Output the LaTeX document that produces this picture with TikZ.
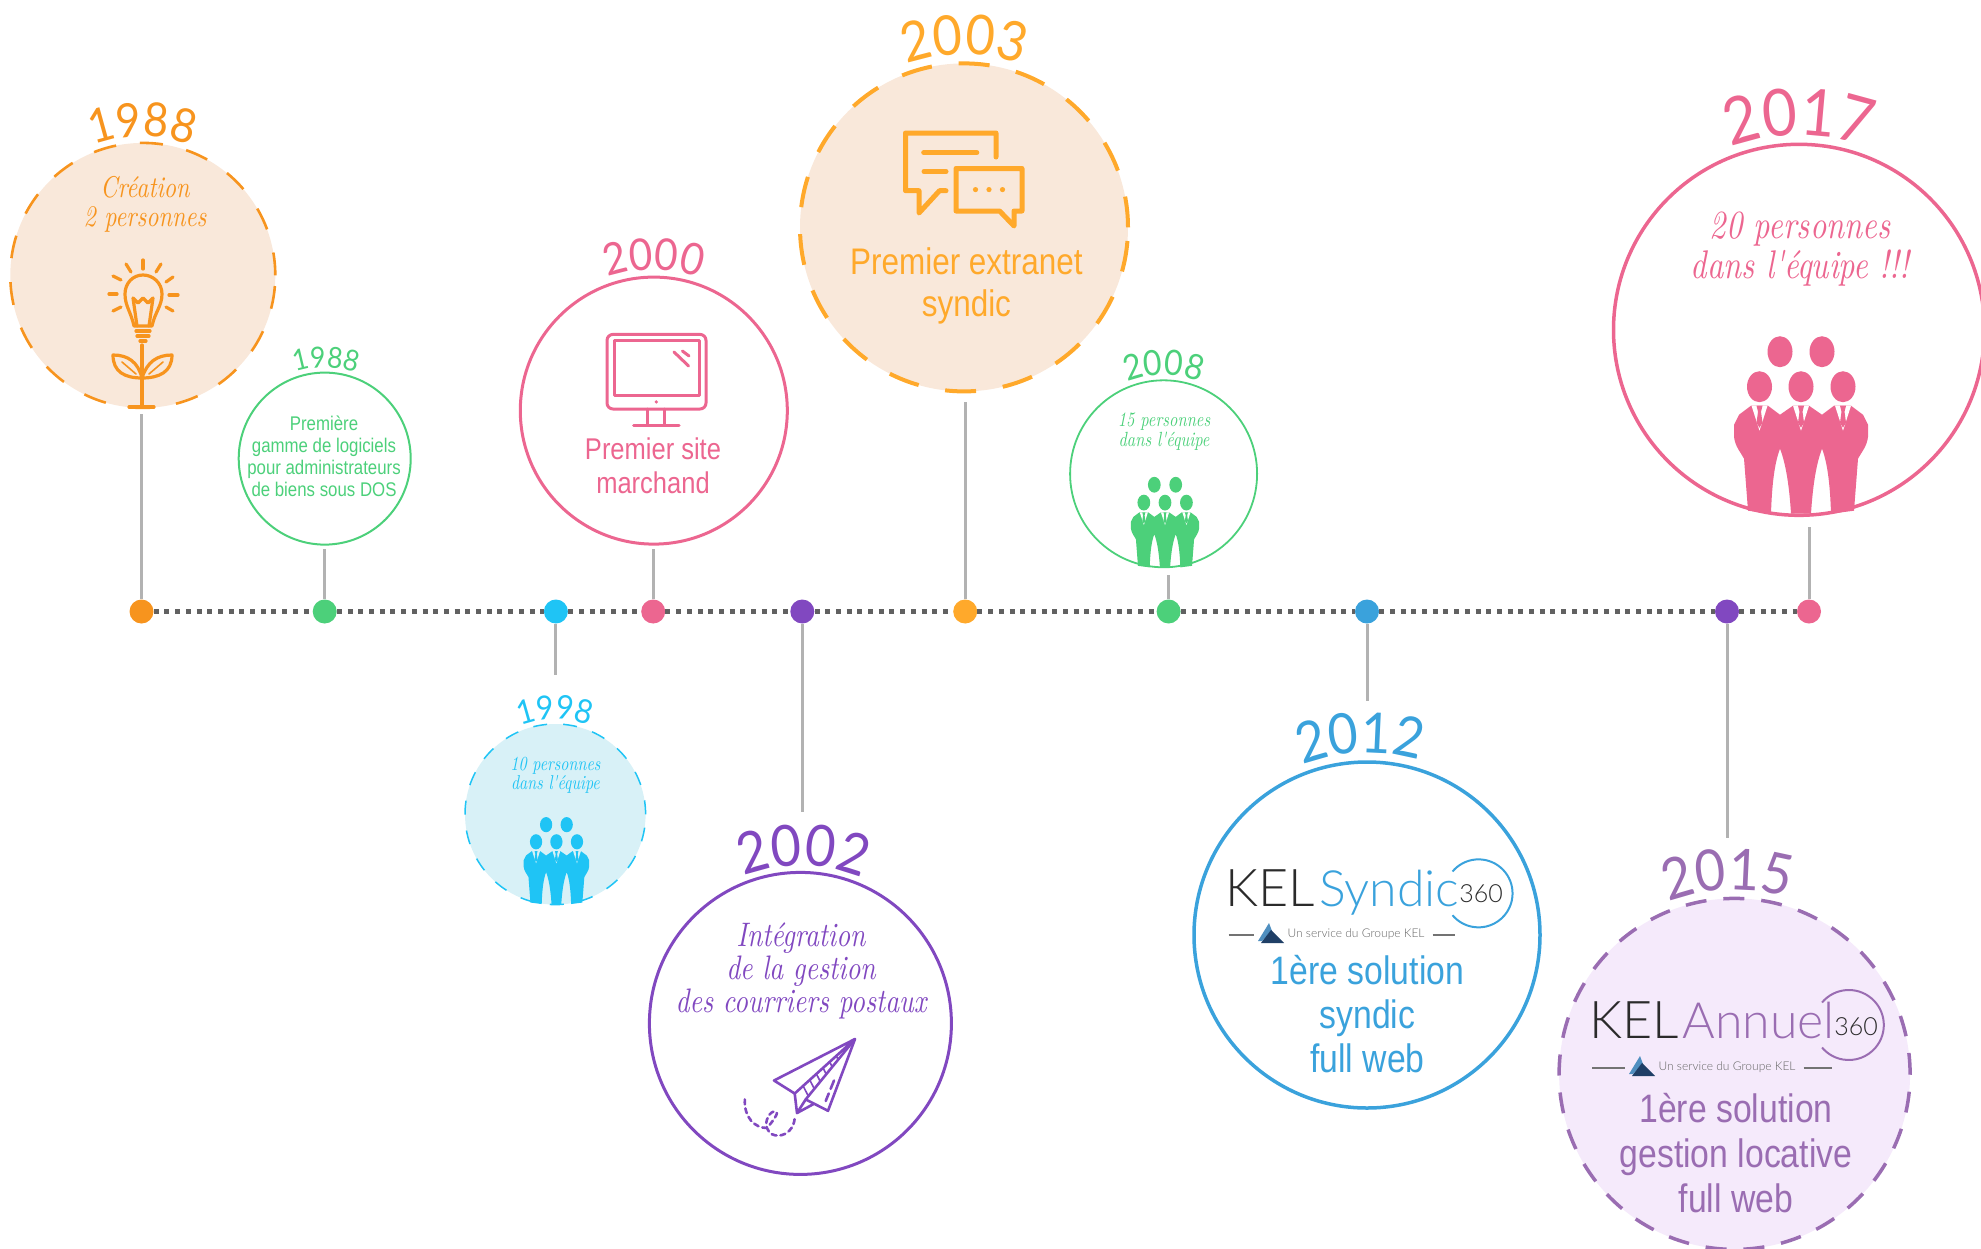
\documentclass[tikz,border=0pt]{standalone}
\usepackage{fontspec}
\usetikzlibrary{calc,decorations.text}

\newfontfamily\yearfont[FakeStretch=0.92]{Lato}
\newfontfamily\narrowfont[FakeStretch=0.85]{Liberation Sans}
\newfontfamily\thinfont{Lato Light}
\newfontfamily\handfont[FakeStretch=0.8,Extension=.otf]{lmroman10-italic}

\definecolor{peach}{HTML}{F9E8DA}
\definecolor{carrot}{HTML}{F7941E}
\definecolor{amber}{HTML}{FFA92B}
\definecolor{leaf}{HTML}{4CD07A}
\definecolor{sky}{HTML}{1FC4F5}
\definecolor{skybg}{HTML}{D8F1F7}
\definecolor{rose}{HTML}{EC6690}
\definecolor{grape}{HTML}{8148C0}
\definecolor{ocean}{HTML}{3AA2DC}
\definecolor{mauve}{HTML}{9A6DB2}
\definecolor{mauvebg}{HTML}{F5EAFB}
\definecolor{navy}{HTML}{1F3F66}
\definecolor{steel}{HTML}{4F8FC0}
\definecolor{inkgray}{HTML}{2B2B2B}

\tikzset{
  dotnode/.style={circle,fill=#1,minimum size=24pt,inner sep=0pt},
  dotline/.style={draw=black!62,line width=5pt,dash pattern=on 5pt off 5.7pt},
  stem/.style={draw=black!30,line width=3pt},
  ring/.style={circle,inner sep=0pt,draw=#1},
  blurb/.style={align=center,inner sep=0pt},
  iconline/.style={line width=#1,line cap=round,line join=round},
  pics/team/.style 2 args={code={
    \foreach \hx/\hy in {-21/-35,21/-35,-41.5/0,0/0,42/0}
      \fill[#1] (\hx,\hy) ellipse (12.5 and 15.5);
    \fill[#1] (-67,38) -- (-62,28) -- (-50,19) -- (-33,19) -- (-21,28) -- (-8,19) -- (8,19)
      -- (21,28) -- (33,19) -- (50,19) -- (62,28) -- (67,38) -- (67,50)
      .. controls (66,60) and (60,66) .. (57,72) -- (53,124) -- (30,127)
      .. controls (29,95) and (26,75) .. (21,62) .. controls (16,75) and (12,95) .. (10,127)
      -- (-10,127) .. controls (-12,95) and (-16,75) .. (-21,62)
      .. controls (-26,75) and (-29,95) .. (-30,127) -- (-53,124) -- (-57,72)
      .. controls (-60,66) and (-66,60) .. (-67,50) -- cycle;
    \foreach \nx in {-41.5,0,42}{
      \fill[#2] (\nx-8,19) -- (\nx+8,19) -- (\nx,44) -- cycle;
      \fill[#1] (\nx-3,19) -- (\nx+3,19) -- (\nx+1.5,25) -- (\nx+3,36) -- (\nx,41)
        -- (\nx-3,36) -- (\nx-1.5,25) -- cycle;
    }
  }},
  pics/groupmark/.style={code={
    \fill[steel] (0,2) -- (11,20) -- (14,12) -- (4,2) -- cycle;
    \fill[navy] (3,0) -- (13,13) -- (26,0) -- cycle;
  }},
}

\newcommand{\yearlabel}[6][0]{%
  \path[decorate,decoration={text along path,text align=center,
    text={|\yearfont\fontsize{#4}{#4}\selectfont\color{#5}|#6}}]
    ($(#2.center)+(135+#1:#3)$) arc (135+#1:45+#1:#3);}

\begin{document}
\begin{tikzpicture}[x=1pt,y=1pt]
    \useasboundingbox (0,0) rectangle (1981,-1248);

    % timeline dots
    \node[dotnode=carrot] (dota) at (141.5,-611.5) {};
    \node[dotnode=leaf] (dotb) at (324.7,-611.5) {};
    \node[dotnode=sky] (dotc) at (555.9,-611.5) {};
    \node[dotnode=rose] (dotd) at (653.2,-611.5) {};
    \node[dotnode=grape] (dote) at (802.3,-611.5) {};
    \node[dotnode=amber] (dotf) at (965.2,-611.5) {};
    \node[dotnode=leaf] (dotg) at (1168.6,-611.5) {};
    \node[dotnode=ocean] (doth) at (1367,-611.5) {};
    \node[dotnode=grape] (doti) at (1727,-611.5) {};
    \node[dotnode=rose] (dotj) at (1809,-611.5) {};
    \foreach \from/\to in {dota/dotb,dotb/dotc,dotc/dotd,dotd/dote,dote/dotf,dotf/dotg,dotg/doth,doth/doti,doti/dotj}
      \draw[dotline] (\from) -- (\to);

    % free ends of the stems
    \coordinate (enda) at (141.5,-414);
    \coordinate (endb) at (324.7,-549);
    \coordinate (endc) at (555.9,-675);
    \coordinate (endd) at (653.2,-549);
    \coordinate (ende) at (802.3,-812);
    \coordinate (endf) at (965.2,-402);
    \coordinate (endg) at (1168.6,-575);
    \coordinate (endh) at (1367,-701);
    \coordinate (endi) at (1727,-838);
    \coordinate (endj) at (1809,-527);
    \foreach \n in {a,b,c,d,e,f,g,h,i,j}
      \draw[stem] (dot\n) -- (end\n);

    % 1988 creation
    \node[ring=carrot,fill=peach,line width=2.6pt,dash pattern=on 23pt off 24pt,minimum size=265pt] (circa) at (142.8,-275.4) {};
    \yearlabel{circa}{139}{47}{carrot}{1988}
    \node[blurb,text=carrot,font=\handfont\fontsize{30}{29}\selectfont] (texta) at (145,-204) {Création\\2 personnes};
    \begin{scope}[draw=carrot,iconline=3.2pt]
      \draw (134,-326) .. controls (131,-312) and (125,-306) .. (125,-294)
        .. controls (125,-283) and (133,-275) .. (143,-275)
        .. controls (153,-275) and (162,-283) .. (162,-294)
        .. controls (162,-306) and (155,-312) .. (152,-326) -- cycle;
      \draw (137,-326) -- (133,-298) -- (138,-303) -- (143,-298) -- (148,-303) -- (153,-298) -- (149,-326);
      \draw (136,-331) -- (150,-331);
      \draw (137,-336) -- (149,-336);
      \draw (140,-341) -- (146,-341);
      \draw (143,-260) -- (143,-269);
      \draw (126,-264) -- (131,-272);
      \draw (161,-264) -- (156,-272);
      \draw (113,-276) -- (121,-280);
      \draw (173,-277) -- (166,-282);
      \draw (109,-294) -- (117,-294);
      \draw (169,-295) -- (178,-295);
      \draw (113,-311) -- (121,-307);
      \draw (173,-311) -- (166,-307);
      \draw (142,-345) -- (142,-406);
      \draw (129,-407) -- (154,-407);
      \draw (142,-378) .. controls (125,-378) and (113,-372) .. (113,-355)
        .. controls (128,-355) and (138,-362) .. (142,-378);
      \draw (142,-378) .. controls (159,-378) and (172,-372) .. (172,-355)
        .. controls (157,-355) and (147,-362) .. (142,-378);
      \draw[line width=1.6pt] (122,-362) -- (136,-374);
      \draw[line width=1.6pt] (163,-362) -- (149,-374);
    \end{scope}

    % 1988 software
    \node[ring=leaf,line width=2pt,minimum size=172pt] (circb) at (324.7,-458.6) {};
    \yearlabel[-1]{circb}{91}{29}{leaf}{1988}
    \node[blurb,text=leaf,font=\narrowfont\fontsize{19.8}{22}\selectfont] (textb) at (324,-456.5) {Première\\gamme de logiciels\\pour administrateurs\\de biens sous DOS};

    % 1998
    \node[ring=sky,fill=skybg,line width=1.5pt,dash pattern=on 14pt off 16pt,minimum size=180.6pt] (circc) at (555.3,-814.3) {};
    \yearlabel{circc}{95}{33}{sky}{1998}
    \node[blurb,text=sky,font=\handfont\fontsize{20}{19}\selectfont] (textc) at (555.4,-775) {10 personnes\\dans l'équipe};
    \pic at (556.4,-841.8) [scale=.49,yscale=-1] {team={sky}{skybg}};

    % 2000
    \node[ring=rose,line width=3pt,minimum size=267pt] (circd) at (653.8,-410.6) {};
    \yearlabel{circd}{141}{44}{rose}{2000}
    \node[blurb,text=rose,font=\narrowfont\fontsize{30}{34}\selectfont] (textd) at (653,-466) {Premier site\\marchand};
    \begin{scope}[draw=rose,iconline=3pt]
      \draw[rounded corners=6pt] (607,-334.4) rectangle (706,-409);
      \draw (614,-340.7) rectangle (699,-395.5);
      \fill[rose] (656.3,-401.9) circle (1.8);
      \draw (647,-409) -- (647,-425);
      \draw (664.6,-409) -- (664.6,-425);
      \draw (633.5,-425) -- (679,-425);
      \draw (674,-352) -- (688.6,-366);
      \draw (682.4,-351) -- (689,-356);
    \end{scope}

    % 2002
    \node[ring=grape,line width=3pt,minimum size=302pt] (circe) at (800.4,-1023.4) {};
    \yearlabel[-1]{circe}{158}{57}{grape}{2002}
    \node[blurb,text=grape,font=\handfont\fontsize{34}{33}\selectfont] (texte) at (801,-971) {Intégration\\de la gestion\\des courriers postaux};
    \begin{scope}[draw=grape,iconline=2.6pt]
      \draw (855,-1039) -- (774,-1080.5) -- (794.7,-1093.5) -- cycle;
      \draw (794.7,-1093.5) -- (797,-1113) -- (805.7,-1099.4) -- (855,-1039);
      \draw (797,-1113) -- (813.6,-1104);
      \draw (805.7,-1099.4) -- (828,-1110.8) -- (855,-1039);
      \foreach \t in {.14,.25,.36,.47,.58,.69,.8}
        \draw[line width=1.6pt] ($(794.7,-1093.5)!\t!(855,-1039)$) -- ($(801,-1106)!\t!(855,-1039)$);
      \draw[dashed,dash pattern=on 9pt off 5pt] (834,-1080.5) -- (825.7,-1101);
      \draw[dash pattern=on 5pt off 4pt] (744.8,-1099.4) .. controls (744,-1118) and (755,-1128) .. (767,-1128)
        .. controls (772,-1122) and (780,-1112) .. (775.7,-1111.5)
        .. controls (770,-1110) and (764,-1122) .. (767,-1128)
        .. controls (769,-1134) and (774,-1136) .. (779,-1135.5)
        .. controls (787,-1135) and (794,-1128) .. (794.7,-1118.3);
    \end{scope}

    % 2003
    \node[ring=amber,fill=peach,line width=4pt,dash pattern=on 31pt off 27pt,minimum size=328pt] (circf) at (964,-227.4) {};
    \yearlabel{circf}{173}{55}{amber}{2003}
    \node[blurb,text=amber,font=\narrowfont\fontsize{37}{42}\selectfont] (textf) at (966.4,-285.5) {Premier extranet\\syndic};
    \begin{scope}[draw=amber,iconline=5pt]
      \draw (996,-157) -- (996,-133) -- (905.5,-133) -- (905.5,-190.7) -- (919,-190.7) -- (919,-213) -- (939.5,-190.7) -- (946,-190.7);
      \draw (923.7,-152.6) -- (976.8,-152.6);
      \draw (924,-171.5) -- (946,-171.5);
      \draw (956,-168.5) -- (1022,-168.5) -- (1022,-211) -- (1014,-211) -- (1014,-226) -- (999.6,-211) -- (956,-211) -- cycle;
      \foreach \d in {975.5,989,1002.5}
        \fill[amber] (\d,-189.6) circle (2.6);
    \end{scope}

    % 2008
    \node[ring=leaf,line width=1.8pt,minimum size=187pt] (circg) at (1163.6,-473.8) {};
    \yearlabel{circg}{99}{35}{leaf}{2008}
    \node[blurb,text=leaf,font=\handfont\fontsize{20.5}{20}\selectfont] (textg) at (1164,-432) {15 personnes\\dans l'équipe};
    \pic at (1165,-502.6) [scale=.51,yscale=-1] {team={leaf}{white}};

    % 2012
    \node[ring=ocean,line width=3.5pt,minimum size=346pt] (circh) at (1367,-935) {};
    \yearlabel[2]{circh}{182}{56}{ocean}{2012}
    \node[inner sep=0pt,anchor=base west,text=inkgray,font=\thinfont\fontsize{52}{52}\selectfont] (kelh) at (1225.5,-906) {KEL};
    \node[inner sep=0pt,anchor=base west,text=ocean,font=\thinfont\fontsize{50}{50}\selectfont] (nameh) at (1319,-906) {Syndic};
    \draw[ocean,line width=2pt] (1452.5,-871.5) arc (140:-140:34);
    \node[inner sep=0pt,text=inkgray,font=\thinfont\fontsize{25}{25}\selectfont] (numh) at (1481,-894) {360};
    \coordinate (rulehl) at (1228.5,-935);
    \coordinate (rulehm) at (1254,-935);
    \coordinate (rulehn) at (1432.5,-935);
    \coordinate (ruleho) at (1454.5,-935);
    \draw[black!55,line width=1.4pt] (rulehl) -- (rulehm);
    \draw[black!55,line width=1.4pt] (rulehn) -- (ruleho);
    \pic at (1258,-943) {groupmark};
    \node[inner sep=0pt,text=black!60,font=\thinfont\fontsize{12}{12}\selectfont] (subh) at (1356,-934) {Un service du Groupe KEL};
    \node[blurb,text=ocean,font=\narrowfont\fontsize{39.7}{43.7}\selectfont] (texth) at (1367.5,-1014) {1ère solution\\syndic\\full web};

    % 2015
    \node[ring=mauve,fill=mauvebg,line width=3.5pt,dash pattern=on 21pt off 17pt,minimum size=351pt] (circi) at (1734.6,-1073.9) {};
    \yearlabel[2]{circi}{184}{57}{mauve}{2015}
    \node[inner sep=0pt,anchor=base west,text=inkgray,font=\thinfont\fontsize{52}{52}\selectfont] (keli) at (1589,-1038.5) {KEL};
    \node[inner sep=0pt,anchor=base west,text=mauve,font=\thinfont\fontsize{50}{50}\selectfont] (namei) at (1682.5,-1038.5) {Annuel};
    \draw[mauve,line width=2pt] (1822,-1002.5) arc (140:-140:35);
    \node[inner sep=0pt,text=inkgray,font=\thinfont\fontsize{25}{25}\selectfont] (numi) at (1856,-1027) {360};
    \coordinate (ruleil) at (1592,-1068);
    \coordinate (ruleim) at (1625,-1068);
    \coordinate (rulein) at (1803.5,-1068);
    \coordinate (ruleio) at (1832,-1068);
    \draw[black!55,line width=1.4pt] (ruleil) -- (ruleim);
    \draw[black!55,line width=1.4pt] (rulein) -- (ruleio);
    \pic at (1629,-1076) {groupmark};
    \node[inner sep=0pt,text=black!60,font=\thinfont\fontsize{12}{12}\selectfont] (subi) at (1727,-1067) {Un service du Groupe KEL};
    \node[blurb,text=mauve,font=\narrowfont\fontsize{39.7}{45}\selectfont] (texti) at (1736,-1153) {1ère solution\\gestion locative\\full web};

    % 2017
    \node[ring=rose,line width=3.5pt,minimum size=371pt] (circj) at (1799,-329.8) {};
    \yearlabel{circj}{195}{65}{rose}{2017}
    \node[blurb,text=rose,font=\handfont\fontsize{40}{40.5}\selectfont] (textj) at (1800,-249) {20 personnes\\dans l'équipe !!!};
    \pic at (1801,-386.7) [yscale=-1] {team={rose}{white}};
\end{tikzpicture}
\end{document}
